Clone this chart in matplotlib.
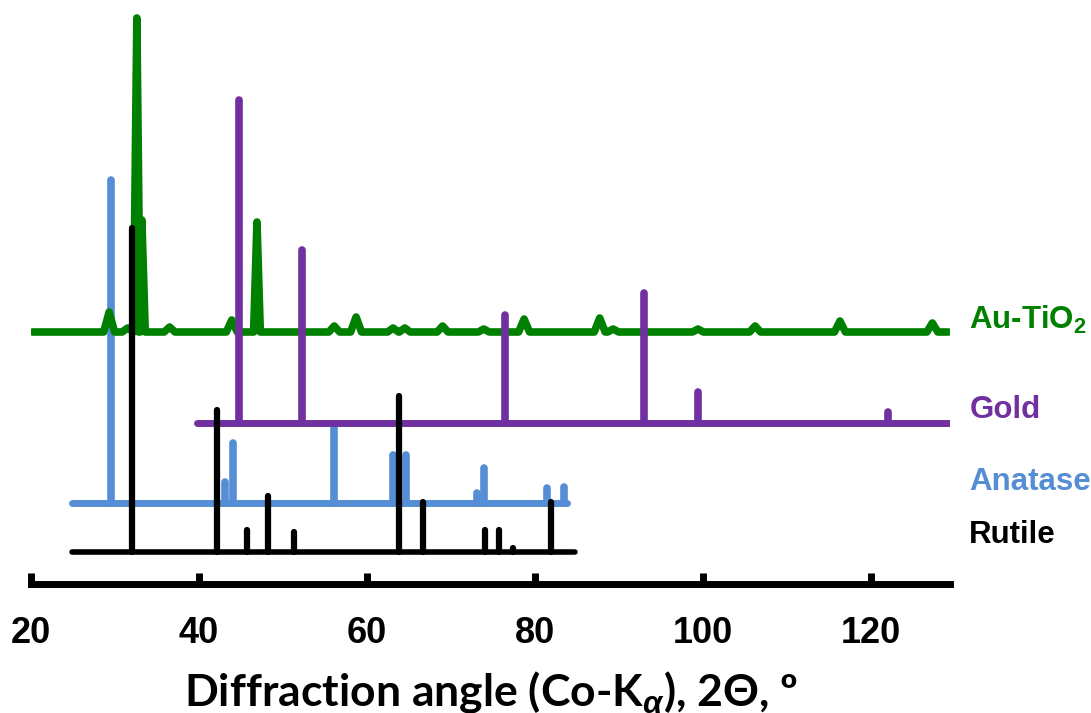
import matplotlib
matplotlib.use("Agg")
import matplotlib.pyplot as plt
from matplotlib.ticker import MultipleLocator

# -------------------------------
# Daten
# -------------------------------
# Au-TiO2 gemessen: Basislinie + Reflexe (Lage in 2Theta, Höhe in a.u.)
au_tio2_range = [20.2, 129.2]
au_tio2_base = 252
au_tio2_pos = [29.3, 31.5, 32.6, 33.2, 36.5, 43.9, 46.9, 56.1, 58.7, 63.1,
               64.5, 69.0, 73.9, 78.7, 87.7, 89.3, 99.4, 106.2, 116.3, 127.3]
au_tio2_int = [20, 4, 314, 112, 5, 12, 110, 6, 15, 4,
               4, 6, 3, 13, 14, 3, 3, 6, 11, 9]

# Referenz Gold
gold_range = [39.8, 129.5]
gold_base = 161
gold_pos = [44.8, 52.3, 76.4, 93.0, 99.4, 122.0]
gold_int = [323, 173, 108, 130, 31, 11]

# Referenz Anatase
anatase_range = [24.9, 83.8]
anatase_base = 81
anatase_pos = [29.5, 43.1, 44.0, 56.1, 63.1, 64.6, 73.1, 73.9, 81.4, 83.5]
anatase_int = [323, 21, 60, 78, 48, 48, 10, 35, 15, 16]

# Referenz Rutile
rutile_range = [24.9, 84.8]
rutile_base = 32
rutile_pos = [32.0, 42.1, 45.7, 48.2, 51.3, 63.8, 66.7, 74.0, 75.7, 77.4, 81.9]
rutile_int = [324, 142, 22, 56, 20, 156, 50, 22, 22, 4, 50]

labels = ["Au-TiO$_2$", "Gold", "Anatase", "Rutile"]
x_ticks = [20, 40, 60, 80, 100, 120]

# -------------------------------
# Farben
# -------------------------------
c_green = "#008000"
c_purple = "#7030A0"
c_blue = "#558ED5"
c_black = "#000000"

plt.rcParams["mathtext.fontset"] = "custom"
plt.rcParams["mathtext.rm"] = "Liberation Sans:bold"
plt.rcParams["mathtext.it"] = "Liberation Sans:italic:bold"
plt.rcParams["mathtext.bf"] = "Liberation Sans:bold"

fig = plt.figure(figsize=(10.91, 7.13), dpi=100)
ax = fig.add_axes([31 / 1091, 1 - 584 / 713, 919 / 1091, 584 / 713])


def peak_curve(xr, base, pos, inten):
    # Polygonzug: Basislinie mit schmalen Dreiecken an den Reflexen
    xs, ys = [xr[0]], [base]
    for p, h in zip(pos, inten):
        w = 0.4 if h > 50 else 0.65
        xs += [p - w, p, p + w]
        ys += [base, base + h, base]
    xs.append(xr[1])
    ys.append(base)
    return xs, ys


def stick_pattern(xr, base, pos, inten, color, z, lw):
    ax.plot(xr, [base, base], color=color, lw=lw, solid_capstyle="round", zorder=z)
    vl = ax.vlines(pos, base, [base + h for h in inten], color=color,
                   lw=lw + 0.5, zorder=z)
    vl.set_capstyle("round")


stick_pattern(anatase_range, anatase_base, anatase_pos, anatase_int, c_blue, 1, 5.0)
gx, gy = peak_curve(au_tio2_range, au_tio2_base, au_tio2_pos, au_tio2_int)
ax.plot(gx, gy, color=c_green, lw=5.5, solid_joinstyle="round",
        solid_capstyle="round", zorder=2)
stick_pattern(gold_range, gold_base, gold_pos, gold_int, c_purple, 3, 5.0)
stick_pattern(rutile_range, rutile_base, rutile_pos, rutile_int, c_black, 4, 4.0)

# -------------------------------
# Achsen
# -------------------------------
ax.set_xlim(20, 129.4)
ax.set_ylim(0, 584)
for s in ["left", "right", "top"]:
    ax.spines[s].set_visible(False)
ax.spines["bottom"].set_linewidth(5)
ax.set_yticks([])
ax.xaxis.set_major_locator(MultipleLocator(20))
ax.set_xticks(x_ticks)
ax.tick_params(axis="x", direction="in", length=8, width=5, pad=23,
               labelsize=26)
for t in ax.get_xticklabels():
    t.set_fontfamily("Liberation Sans")
    t.set_fontweight("bold")

ax.set_xlabel(r"Diffraction angle (Co-K$_{\alpha}$), 2Θ, º",
              fontsize=32, fontweight="bold", family=["Lato", "DejaVu Sans"],
              labelpad=13)

# -------------------------------
# Beschriftung rechts
# -------------------------------
label_y = [255, 166, 94, 41]
label_c = [c_green, c_purple, c_blue, c_black]
for txt, y, c in zip(labels, label_y, label_c):
    ax.text(131.7, y, txt, color=c, fontsize=22.5, fontweight="bold",
            family="Liberation Sans", va="baseline", ha="left", clip_on=False)

fig.savefig("out.png", dpi=100)
